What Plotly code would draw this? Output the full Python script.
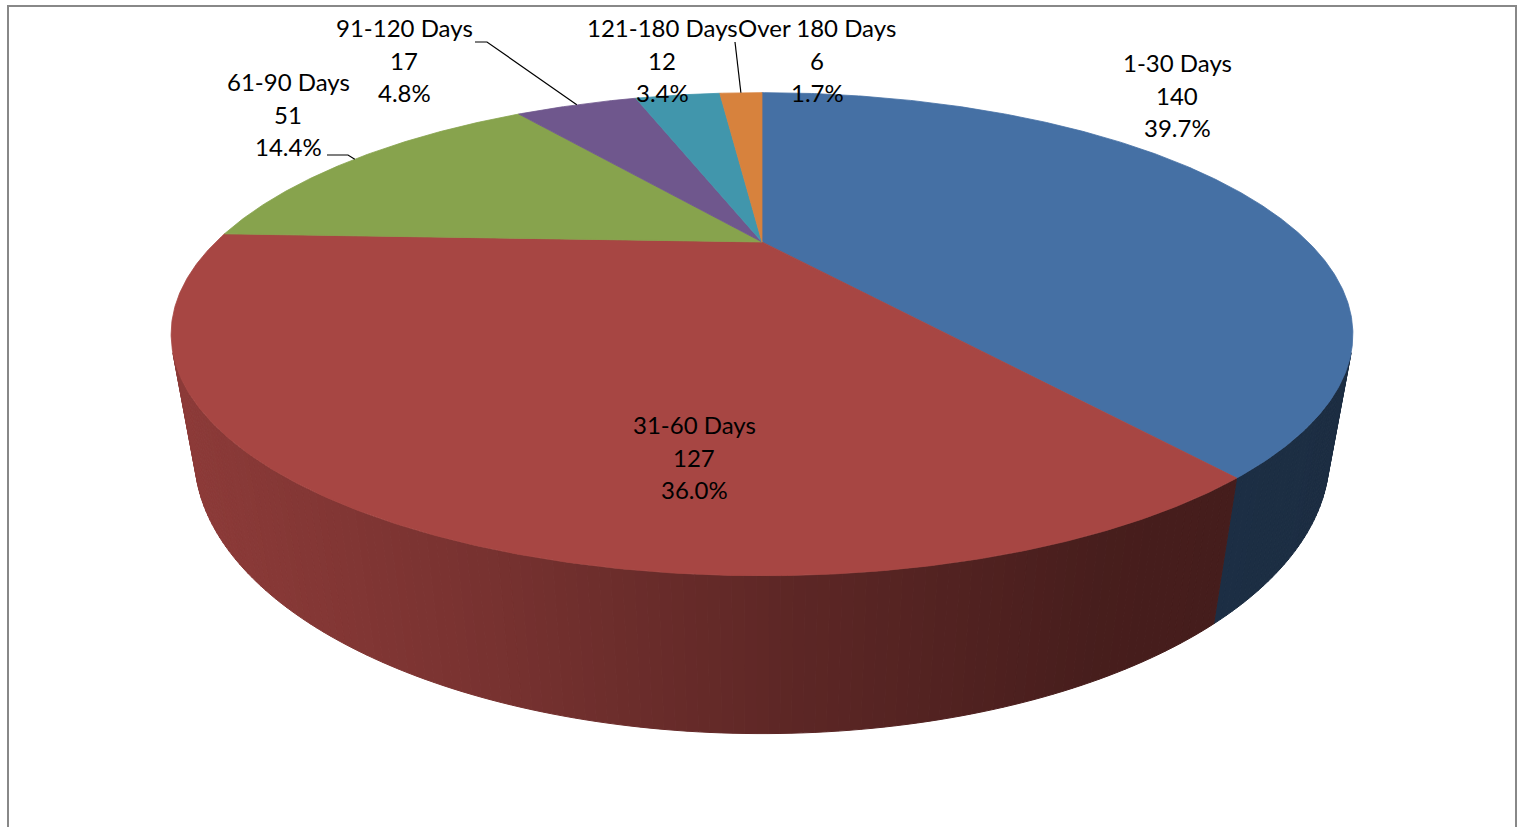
import numpy as np
import plotly.graph_objects as go

# ---------------- data ----------------
categories = ["1-30 Days", "31-60 Days", "61-90 Days", "91-120 Days", "121-180 Days", "Over 180 Days"]
values = [140, 127, 51, 17, 12, 6]
base_colors = ["#4F81BD", "#C0504D", "#9BBB59", "#8064A2", "#4BACC6", "#F79646"]

# ---------------- layout / style ----------------
W, H = 1523, 827
CX, CY = 762, 242                 # projected pie centre (px)
TILT = np.radians(22.2)           # camera elevation
DIST = 2.426                      # camera distance (in radii)
FOCAL = 1325                      # focal length (px)
THICK = 0.2275                    # pie thickness (in radii)
TOP_LIGHT = 0.87
SHADE_X = [190, 500, 800, 1100, 1330]
SHADE_F = [0.73, 0.62, 0.48, 0.37, 0.35]
FONT = dict(family="Lato, 'Open Sans', sans-serif", size=24, color="black")
LINE_GAP = 32.5
TEXT_DY = -2

label_xy = [(1177, 97), (694, 459), (288, 116), (404, 62), (662, 62), (817, 62)]
leader_start = {2: [(327, 155), (348, 155)], 3: [(475, 42), (487, 42)], 5: [(735, 42)]}

cT, sT = np.cos(TILT), np.sin(TILT)


def project(a, z):
    px, py = np.sin(a), np.cos(a)
    den = DIST + py * cT - z * sT
    u = FOCAL * px / den
    v = FOCAL * (py * sT + z * cT) / den
    return CX + u, CY - v


def hex2rgb(h):
    h = h.lstrip("#")
    return [int(h[i:i + 2], 16) for i in (0, 2, 4)]


def shade(h, f):
    r, g, b = hex2rgb(h)
    return "rgb(%d,%d,%d)" % (round(r * f), round(g * f), round(b * f))


total = sum(values)
fracs = [v / total for v in values]
cum = np.concatenate([[0], np.cumsum(fracs)])
starts = cum[:-1] * 2 * np.pi
ends = cum[1:] * 2 * np.pi

fig = go.Figure()

# ---- side walls (front facing part) ----
a_lo = np.arccos(-1.0 / (DIST * cT))
a_hi = 2 * np.pi - a_lo
step = np.radians(0.8)
for i in range(len(values)):
    s0, s1 = max(starts[i], a_lo), min(ends[i], a_hi)
    if s1 <= s0:
        continue
    n = max(1, int(np.ceil((s1 - s0) / step)))
    edges = np.linspace(s0, s1, n + 1)
    for k in range(n):
        a0, a1 = edges[k], edges[k + 1]
        xt0, yt0 = project(a0, 0)
        xt1, yt1 = project(a1, 0)
        xb1, yb1 = project(a1, -THICK)
        xb0, yb0 = project(a0, -THICK)
        xm = (xt0 + xt1 + xb0 + xb1) / 4
        col = shade(base_colors[i], float(np.interp(xm, SHADE_X, SHADE_F)))
        fig.add_trace(go.Scatter(
            x=[xt0, xt1, xb1, xb0, xt0], y=[yt0, yt1, yb1, yb0, yt0],
            mode="lines", fill="toself", fillcolor=col,
            line=dict(color=col, width=1), hoverinfo="skip", showlegend=False))

# ---- top faces ----
for i in range(len(values)):
    n = max(2, int(np.ceil((ends[i] - starts[i]) / np.radians(0.4))))
    a = np.linspace(starts[i], ends[i], n + 1)
    xs, ys = project(a, 0)
    xs = np.concatenate([[CX], xs, [CX]])
    ys = np.concatenate([[CY], ys, [CY]])
    col = shade(base_colors[i], TOP_LIGHT)
    fig.add_trace(go.Scatter(
        x=xs, y=ys, mode="lines", fill="toself", fillcolor=col,
        line=dict(color=col, width=0.8), hoverinfo="skip", showlegend=False))

# ---- leader lines ----
for i, pts in leader_start.items():
    mid = (starts[i] + ends[i]) / 2
    ex, ey = project(mid, 0)
    xs = [p[0] for p in pts] + [ex]
    ys = [p[1] for p in pts] + [ey]
    fig.add_trace(go.Scatter(x=xs, y=ys, mode="lines",
                             line=dict(color="black", width=1.2),
                             hoverinfo="skip", showlegend=False))

# ---- labels (three lines each) ----
for i, (lx, ly) in enumerate(label_xy):
    lines = [categories[i], "%d" % values[i], "%.1f%%" % (fracs[i] * 100)]
    for j, t in enumerate(lines):
        fig.add_annotation(x=lx, y=ly + TEXT_DY + (j - 1) * LINE_GAP, text=t, showarrow=False,
                           font=FONT, xanchor="center", yanchor="middle", align="center")

# ---- chart border ----
fig.add_shape(type="rect", x0=8, y0=6, x1=1516, y1=845, xref="x", yref="y",
              line=dict(color="#888888", width=2), fillcolor="rgba(0,0,0,0)")

fig.update_layout(
    width=W, height=H, margin=dict(l=0, r=0, t=0, b=0),
    paper_bgcolor="white", plot_bgcolor="white",
    xaxis=dict(range=[0, W], visible=False, fixedrange=True),
    yaxis=dict(range=[H, 0], visible=False, fixedrange=True),
    showlegend=False,
)

fig.write_html("out.html", config={"displayModeBar": False},
               post_script="document.body.style.margin='0';document.body.style.overflow='hidden';")
